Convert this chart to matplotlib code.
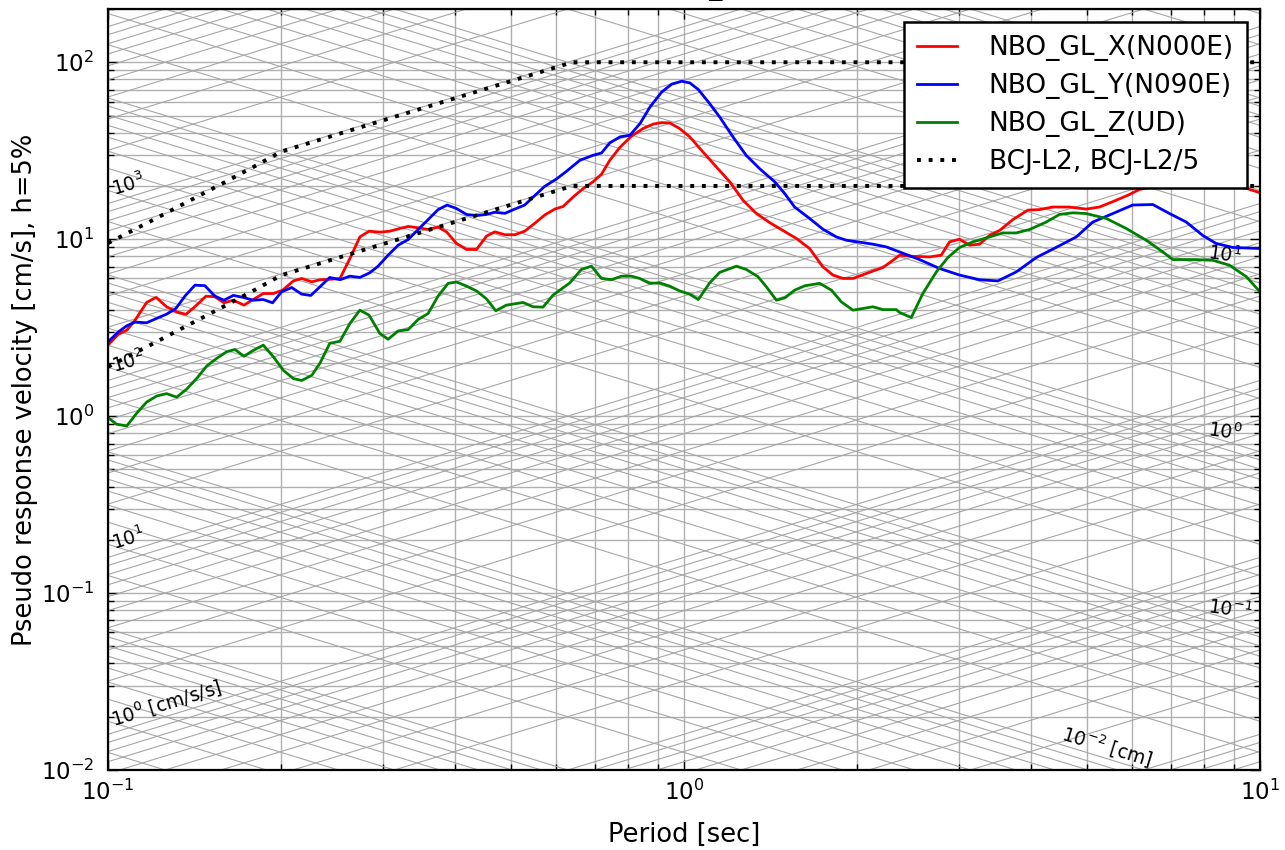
import numpy as np
import matplotlib
matplotlib.use("Agg")
import matplotlib.pyplot as plt
from matplotlib.ticker import LogLocator, NullFormatter, LogFormatterSciNotation

# ---------------- data ----------------
red_T = [0.1000, 0.1042, 0.1078, 0.1114, 0.1167, 0.1212, 0.1264, 0.1316, 0.1366, 0.1425,
         0.1479, 0.1533, 0.1590, 0.1650, 0.1722, 0.1787, 0.1860, 0.1936, 0.2010, 0.2098,
         0.2169, 0.2258, 0.2333, 0.2427, 0.2528, 0.2630, 0.2737, 0.2840, 0.2965, 0.3085,
         0.3211, 0.3320, 0.3455, 0.3595, 0.3742, 0.3871, 0.4028, 0.4192, 0.4363, 0.4540,
         0.4693, 0.4887, 0.5084, 0.5290, 0.5507, 0.5731, 0.5965, 0.6166, 0.6418, 0.6679,
         0.6951, 0.7190, 0.7432, 0.7736, 0.8103, 0.8489, 0.8835, 0.9138, 0.9445, 0.9829,
         1.023, 1.079, 1.138, 1.201, 1.266, 1.336, 1.409, 1.485, 1.567, 1.652,
         1.742, 1.814, 1.888, 1.965, 2.072, 2.215, 2.305, 2.368, 2.497, 2.669,
         2.796, 2.891, 3.009, 3.131, 3.259, 3.392, 3.530, 3.723, 3.954, 4.142,
         4.368, 4.669, 4.992, 5.263, 5.551, 5.894, 6.175, 6.80, 7.60, 8.50,
         9.51, 10.0]
red_sv = [2.52, 2.90, 3.06, 3.48, 4.39, 4.69, 4.15, 3.88, 3.76, 4.24,
          4.76, 4.73, 4.37, 4.52, 4.24, 4.56, 4.93, 4.93, 5.15, 5.81,
          6.00, 5.74, 5.90, 5.93, 6.00, 7.78, 10.3, 11.1, 10.96, 11.1,
          11.5, 11.8, 11.6, 11.35, 11.7, 10.99, 9.46, 8.75, 8.75, 10.4,
          11.0, 10.6, 10.6, 11.1, 12.3, 13.7, 14.8, 15.3, 17.3, 19.3,
          21.1, 23.3, 27.9, 33.0, 38.2, 42.2, 44.7, 45.6, 45.4, 42.2,
          37.9, 31.1, 25.6, 21.1, 16.6, 13.96, 12.4, 11.2, 10.1, 8.86,
          6.98, 6.27, 6.00, 6.00, 6.40, 6.92, 7.60, 8.12, 8.00, 7.94,
          8.12, 9.66, 10.0, 9.25, 9.37, 10.5, 11.2, 12.9, 14.6, 14.7,
          15.2, 15.2, 14.8, 15.2, 16.3, 17.7, 19.1, 20.3, 21.0, 20.8,
          19.3, 18.3]

blue_T = [0.1000, 0.1042, 0.1078, 0.1114, 0.1167, 0.1215, 0.1264, 0.1312, 0.1360, 0.1416,
          0.1473, 0.1533, 0.1590, 0.1650, 0.1717, 0.1787, 0.1860, 0.1931, 0.2001, 0.2084,
          0.2169, 0.2250, 0.2333, 0.2427, 0.2528, 0.2630, 0.2737, 0.2848, 0.2944, 0.3064,
          0.3190, 0.3320, 0.3455, 0.3595, 0.3742, 0.3880, 0.4028, 0.4192, 0.4363, 0.4540,
          0.4693, 0.4887, 0.5084, 0.5290, 0.5470, 0.5731, 0.6006, 0.6252, 0.6592, 0.6951,
          0.7190, 0.7432, 0.7745, 0.8057, 0.8386, 0.8730, 0.9148, 0.9521, 0.9908, 1.024,
          1.059, 1.108, 1.153, 1.216, 1.282, 1.352, 1.437, 1.496, 1.556, 1.652,
          1.742, 1.839, 1.913, 2.018, 2.128, 2.244, 2.368, 2.564, 2.778, 3.009,
          3.259, 3.507, 3.774, 4.089, 4.426, 4.797, 5.126, 5.551, 6.012, 6.516,
          6.966, 7.447, 7.955, 8.391, 8.969, 10.0]
blue_sv = [2.63, 2.99, 3.24, 3.40, 3.37, 3.57, 3.77, 4.06, 4.77, 5.50,
           5.46, 4.77, 4.52, 4.81, 4.69, 4.52, 4.56, 4.37, 5.04, 5.33,
           4.89, 4.81, 5.38, 6.08, 5.90, 6.18, 6.08, 6.46, 7.04, 8.12,
           9.25, 9.96, 11.35, 12.9, 14.7, 15.6, 14.9, 13.8, 13.6, 13.8,
           14.2, 14.0, 14.8, 15.6, 17.3, 19.9, 21.9, 24.2, 27.9, 29.8,
           30.7, 35.0, 37.9, 38.7, 45.0, 55.9, 67.9, 75.2, 78.1, 76.4,
           70.1, 58.4, 49.1, 37.9, 29.8, 25.1, 21.1, 18.1, 15.2, 13.1,
           11.4, 10.3, 9.87, 9.62, 9.37, 9.05, 8.47, 7.67, 6.83, 6.27,
           5.90, 5.81, 6.53, 7.88, 8.98, 10.3, 12.5, 13.96, 15.6, 15.7,
           13.96, 12.5, 10.5, 9.46, 8.98, 8.86]

green_T = [0.1000, 0.1035, 0.1078, 0.1122, 0.1167, 0.1215, 0.1264, 0.1316, 0.1369, 0.1425,
           0.1484, 0.1544, 0.1607, 0.1661, 0.1722, 0.1787, 0.1860, 0.1936, 0.2014, 0.2098,
           0.2169, 0.2258, 0.2333, 0.2427, 0.2528, 0.2630, 0.2737, 0.2840, 0.2965, 0.3064,
           0.3190, 0.3320, 0.3455, 0.3595, 0.3742, 0.3895, 0.4028, 0.4192, 0.4363, 0.4540,
           0.4712, 0.4917, 0.5255, 0.5470, 0.5692, 0.5924, 0.6334, 0.6637, 0.6909, 0.7190,
           0.7482, 0.7788, 0.8103, 0.8376, 0.8720, 0.9074, 0.9445, 0.9829, 1.023, 1.059,
           1.108, 1.153, 1.233, 1.282, 1.344, 1.390, 1.447, 1.496, 1.556, 1.620,
           1.720, 1.803, 1.876, 1.965, 2.128, 2.215, 2.337, 2.368, 2.481, 2.598,
           2.742, 2.872, 3.009, 3.174, 3.392, 3.577, 3.774, 3.981, 4.254, 4.487,
           4.732, 4.992, 5.408, 5.857, 6.344, 6.781, 7.058, 7.745, 8.279, 8.851,
           9.467, 10.0]
green_sv = [0.98, 0.90, 0.88, 1.04, 1.20, 1.30, 1.34, 1.28, 1.42, 1.63,
            1.92, 2.12, 2.31, 2.38, 2.18, 2.35, 2.52, 2.17, 1.82, 1.63,
            1.59, 1.70, 1.99, 2.58, 2.65, 3.34, 3.97, 3.72, 2.93, 2.72,
            3.03, 3.08, 3.52, 3.80, 4.77, 5.63, 5.73, 5.43, 5.10, 4.60,
            3.94, 4.24, 4.39, 4.15, 4.13, 4.83, 5.66, 6.75, 7.04, 6.00,
            5.90, 6.18, 6.18, 6.00, 5.63, 5.66, 5.43, 5.10, 4.89, 4.56,
            5.66, 6.49, 7.04, 6.75, 6.14, 5.38, 4.52, 4.66, 5.15, 5.45,
            5.63, 5.15, 4.42, 3.97, 4.15, 4.00, 4.00, 3.85, 3.61, 4.93,
            6.53, 7.88, 8.98, 9.66, 10.3, 10.85, 10.85, 11.35, 12.5, 13.8,
            14.1, 13.96, 13.1, 11.5, 9.87, 8.47, 7.67, 7.67, 7.60, 7.13,
            6.14, 5.04]

bcj_T = [0.10, 0.12, 0.14, 0.16, 0.18, 0.20, 0.64, 10.0]
bcj_sv = [9.5, 12.9, 16.8, 21.1, 25.9, 31.3, 100.0, 100.0]
bcj_div = 5.0

series_labels = ["NBO_GL_X(N000E)", "NBO_GL_Y(N090E)", "NBO_GL_Z(UD)", "BCJ-L2, BCJ-L2/5"]
series_colors = ["red", "blue", "green", "black"]

acc_decades = list(range(-3, 5))      # cm/s/s
disp_decades = list(range(-4, 3))     # cm
acc_label_exps = [0, 1, 2, 3]
disp_label_exps_right = [-1, 0, 1]
disp_label_exp_bottom = -2

title_text = "NBO_GL"
xlabel_text = "Period [sec]"
ylabel_text = "Pseudo response velocity [cm/s], h=5%"

xlim = (0.1, 10.0)
ylim = (0.01, 200.0)

# ---------------- figure ----------------
fig = plt.figure(figsize=(12.85, 8.5), dpi=100)
ax = fig.add_axes([108 / 1285, 80 / 850, 1152 / 1285, 761 / 850])
ax.set_xscale("log")
ax.set_yscale("log")

grid_col = "#b0b0b0"
diag_col = "#a6a6a6"
Tline = np.array([xlim[0], xlim[1]])
mults = range(1, 10)
for k in acc_decades:
    for m in mults:
        sa = m * 10.0 ** k
        ax.plot(Tline, sa * Tline / (2 * np.pi), color=diag_col, lw=0.8, zorder=0.6)
for k in disp_decades:
    for m in mults:
        sd = m * 10.0 ** k
        ax.plot(Tline, 2 * np.pi * sd / Tline, color=diag_col, lw=0.8, zorder=0.6)

ax.grid(True, which="both", color=grid_col, lw=1.0, zorder=0.5)
ax.set_axisbelow(True)

# labels along diagonal lines
lab_fs = 13.5
T_left = 0.1025
for e in acc_label_exps:
    sa = 10.0 ** e
    txt = r"$10^{%d}$" % e + (" [cm/s/s]" if e == acc_label_exps[0] else "")
    ax.text(T_left, sa * T_left / (2 * np.pi) * 1.07, txt, fontsize=lab_fs,
            rotation=17, rotation_mode="anchor", ha="left", va="baseline", zorder=1)
T_right = 8.1
for e in disp_label_exps_right:
    sd = 10.0 ** e
    ax.text(T_right, 2 * np.pi * sd / T_right * 1.0, r"$\mathit{10}^{\mathit{%d}}$" % e,
            fontsize=lab_fs, rotation=-8, rotation_mode="anchor", ha="left", va="baseline",
            zorder=1)
T_bot = 4.5
ax.text(T_bot, 2 * np.pi * 10.0 ** disp_label_exp_bottom / T_bot * 1.06,
        r"$10^{%d}$ [cm]" % disp_label_exp_bottom, fontsize=lab_fs, rotation=-17,
        rotation_mode="anchor", ha="left", va="baseline", zorder=1)

# data
lw = 2.0
ax.plot(red_T, red_sv, color=series_colors[0], lw=lw, label=series_labels[0], zorder=3)
ax.plot(blue_T, blue_sv, color=series_colors[1], lw=lw, label=series_labels[1], zorder=3)
ax.plot(green_T, green_sv, color=series_colors[2], lw=lw, label=series_labels[2], zorder=3)
ax.plot(bcj_T, bcj_sv, color=series_colors[3], lw=2.8, ls=(0, (1, 2)),
        label=series_labels[3], zorder=3)
ax.plot(bcj_T, np.array(bcj_sv) / bcj_div, color=series_colors[3], lw=2.8,
        ls=(0, (1, 2)), zorder=3)

ax.set_xlim(*xlim)
ax.set_ylim(*ylim)

ax.xaxis.set_major_locator(LogLocator(base=10))
ax.yaxis.set_major_locator(LogLocator(base=10))
ax.xaxis.set_minor_locator(LogLocator(base=10, subs=np.arange(2, 10)))
ax.yaxis.set_minor_locator(LogLocator(base=10, subs=np.arange(2, 10)))
ax.xaxis.set_major_formatter(LogFormatterSciNotation())
ax.yaxis.set_major_formatter(LogFormatterSciNotation())
ax.xaxis.set_minor_formatter(NullFormatter())
ax.yaxis.set_minor_formatter(NullFormatter())

ax.tick_params(which="both", direction="in", top=True, right=True, colors="black")
ax.tick_params(which="major", length=7.5, width=1.0, labelsize=16.5)
ax.tick_params(which="minor", length=4.5, width=1.0)
ax.tick_params(axis="x", which="major", pad=7)
ax.tick_params(axis="y", which="major", pad=10)

for sp in ax.spines.values():
    sp.set_linewidth(1.6)
    sp.set_color("black")
    sp.set_zorder(5)

ax.set_xlabel(xlabel_text, fontsize=18.5, labelpad=12)
ax.set_ylabel(ylabel_text, fontsize=18.5, labelpad=2)
ax.set_title(title_text, fontsize=19, pad=10, x=0.518)

leg = ax.legend(loc="upper right", bbox_to_anchor=(0.9887, 0.983), borderaxespad=0,
                fontsize=19, fancybox=False, framealpha=1.0, edgecolor="black",
                handlelength=1.5, handletextpad=1.2, labelspacing=0.45, borderpad=0.5)
leg.get_frame().set_linewidth(1.8)
leg.set_zorder(10)

fig.savefig("out.png", dpi=100)
